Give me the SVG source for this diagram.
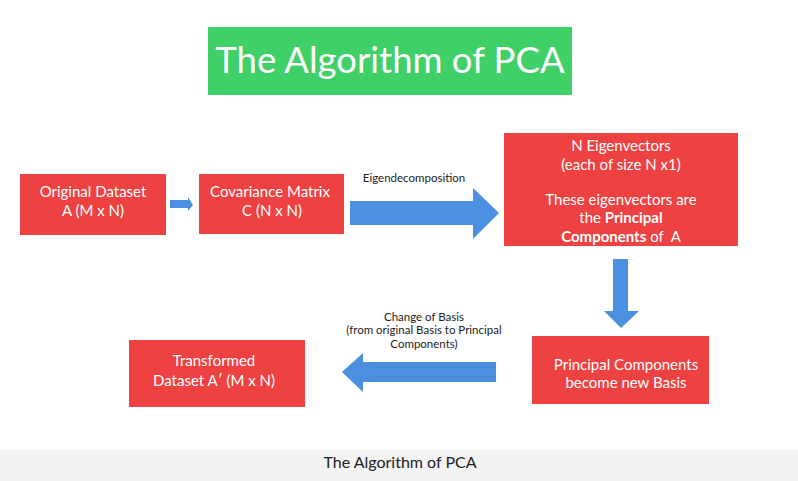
<svg xmlns="http://www.w3.org/2000/svg" width="798" height="481" viewBox="0 0 798 481">
<style>
.box{fill:#ee4141;}
.arr{fill:#4a8fe0;}
.t{font-family:Lato,"Liberation Sans",sans-serif;fill:#fff;text-anchor:middle;font-size:15px;}
.lbl{font-family:Lato,"Liberation Sans",sans-serif;fill:#222;text-anchor:middle;font-size:11.5px;}
.b{font-weight:bold;}
</style>
<rect width="798" height="481" fill="#fff"/>
<g id="title">
<rect x="208" y="27" width="364" height="68" fill="#3fd068"/>
<text x="390" y="73" font-family="Lato,'Liberation Sans',sans-serif" font-size="36.5" fill="#fff" text-anchor="middle">The Algorithm of PCA</text>
</g>
<g id="connectors">
<polygon class="arr" points="170,200 188,200 188,197 193,205 188,211 188,208 170,208"/>
<polygon class="arr" points="350,201 473,201 473,188 499,213 473,239 473,225 350,225"/>
<polygon class="arr" points="613,259 628,259 628,311 639,311 621,328 604,311 613,311"/>
<polygon class="arr" points="496,362 363,362 363,353 342,372 363,392 363,382 496,382"/>
<text class="lbl" x="414" y="182">Eigendecomposition</text>
<text class="lbl" x="424" y="321">Change of Basis</text>
<text class="lbl" x="424" y="334">(from original Basis to Principal</text>
<text class="lbl" x="424" y="348">Components)</text>
</g>
<g id="n1">
<rect class="box" x="20" y="174" width="146" height="61"/>
<text class="t" x="93" y="197">Original Dataset</text>
<text class="t" x="93" y="216">A (M x N)</text>
</g>
<g id="n2">
<rect class="box" x="199" y="174" width="145" height="60"/>
<text class="t" x="270" y="197">Covariance Matrix</text>
<text class="t" x="272" y="216">C (N x N)</text>
</g>
<g id="n3">
<rect class="box" x="504" y="133" width="234" height="113"/>
<text class="t" x="621" y="151">N Eigenvectors</text>
<text class="t" x="621" y="170">(each of size N x1)</text>
<text class="t" x="621" y="205">These eigenvectors are</text>
<text class="t" x="621" y="223">the <tspan class="b">Principal</tspan></text>
<text class="t" x="621" y="242"><tspan class="b">Components</tspan> of&#160; A</text>
</g>
<g id="n4">
<rect class="box" x="532" y="336" width="177" height="68"/>
<text class="t" x="626" y="370">Principal Components</text>
<text class="t" x="626" y="388">become new Basis</text>
</g>
<g id="n5">
<rect class="box" x="129" y="340" width="176" height="67"/>
<text class="t" x="214" y="366">Transformed</text>
<text class="t" x="214" y="386">Dataset A′ (M x N)</text>
</g>
<g id="caption">
<rect x="0" y="450" width="798" height="31" fill="#f3f3f3"/>
<text x="400" y="468" font-family="Lato,'Liberation Sans',sans-serif" font-size="16" fill="#222" text-anchor="middle">The Algorithm of PCA</text>
</g>
</svg>
